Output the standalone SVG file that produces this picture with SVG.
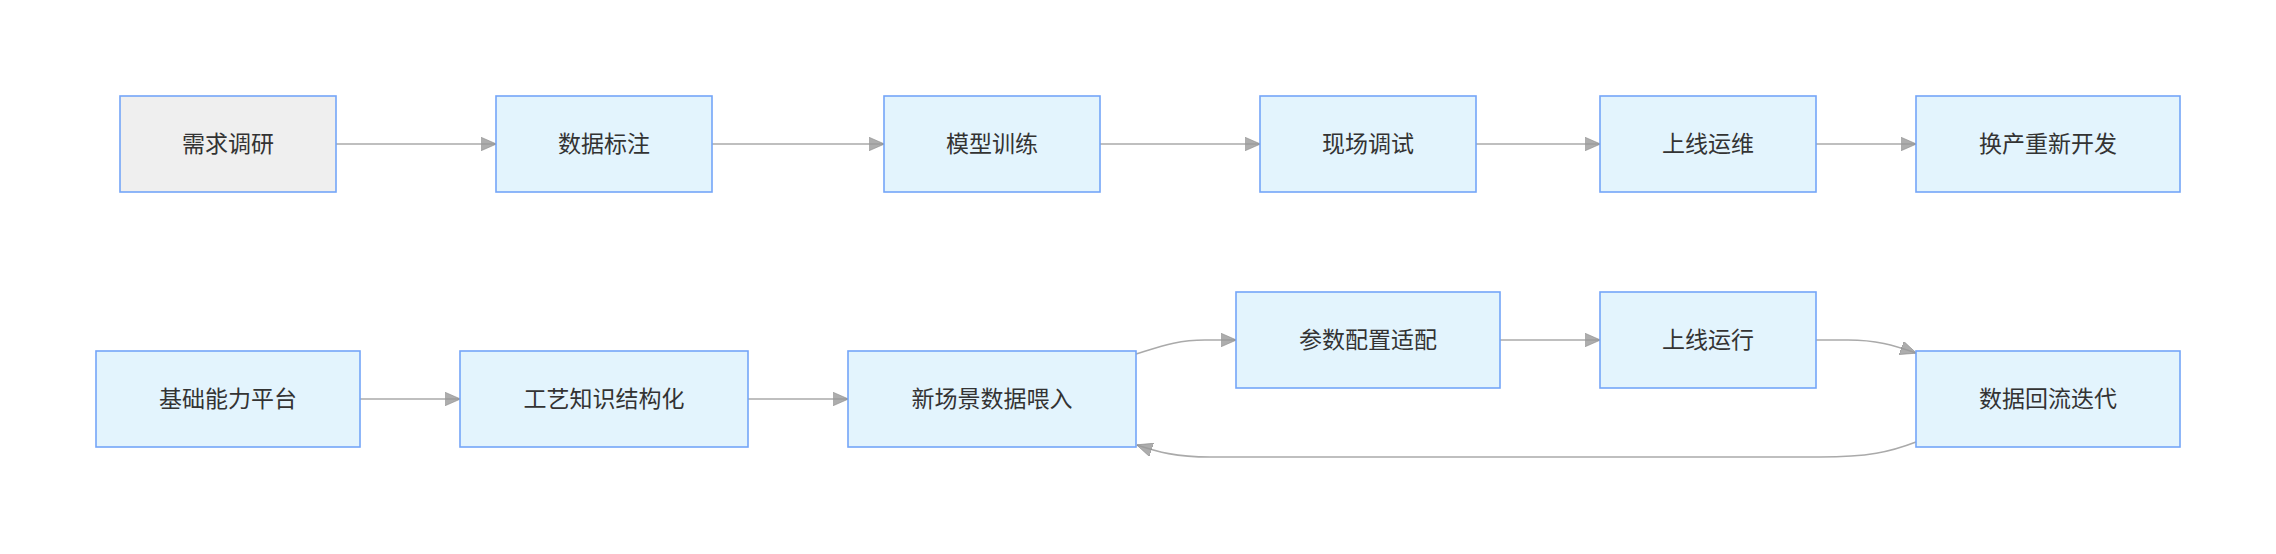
<svg xmlns="http://www.w3.org/2000/svg" width="2276" height="554" viewBox="0 0 2276 554">
  <style>
    .box { fill: #e3f4fd; stroke: #74a5f8; stroke-width: 1.6; }
    .box.grey { fill: #efefef; }
    .label { font-family: 'Liberation Sans', 'Noto Sans CJK SC', sans-serif; font-size: 23px; fill: #333333; text-anchor: middle; dominant-baseline: central; }
    .edge { fill: none; stroke: #aaaaaa; stroke-width: 1.6; marker-end: url(#arrow); }
  </style>
  <defs>
    <marker id="arrow" markerUnits="userSpaceOnUse" viewBox="0 0 16 14" refX="15.5" refY="7" markerWidth="16" markerHeight="14" orient="auto">
      <path d="M0,0 L16,7 L0,14 Z" fill="#999999" fill-opacity="0.8" stroke="#8a8a8a" stroke-width="0.6"/>
    </marker>
  </defs>
  <rect width="2276" height="554" fill="#ffffff"/>

  <g id="connectors">
    <path class="edge" d="M336,144 L496,144"/>
    <path class="edge" d="M712,144 L884,144"/>
    <path class="edge" d="M1100,144 L1260,144"/>
    <path class="edge" d="M1476,144 L1600,144"/>
    <path class="edge" d="M1816,144 L1916,144"/>
    <path class="edge" d="M360,399 L460,399"/>
    <path class="edge" d="M748,399 L848,399"/>
    <path class="edge" d="M1136,354 C1162,346 1178,340 1205,340 L1236,340"/>
    <path class="edge" d="M1500,340 L1600,340"/>
    <path class="edge" d="M1816,340 L1848,340 C1876,340 1893,345 1916,353"/>
    <path class="edge" d="M1916,442 C1890,452 1868,457 1820,457 L1210,457 C1176,457 1158,452 1137,445"/>
  </g>

  <g id="n1"><rect class="box grey" x="120" y="96" width="216" height="96"/><text class="label" x="228" y="144">需求调研</text></g>
  <g id="n2"><rect class="box" x="496" y="96" width="216" height="96"/><text class="label" x="604" y="144">数据标注</text></g>
  <g id="n3"><rect class="box" x="884" y="96" width="216" height="96"/><text class="label" x="992" y="144">模型训练</text></g>
  <g id="n4"><rect class="box" x="1260" y="96" width="216" height="96"/><text class="label" x="1368" y="144">现场调试</text></g>
  <g id="n5"><rect class="box" x="1600" y="96" width="216" height="96"/><text class="label" x="1708" y="144">上线运维</text></g>
  <g id="n6"><rect class="box" x="1916" y="96" width="264" height="96"/><text class="label" x="2048" y="144">换产重新开发</text></g>

  <g id="m1"><rect class="box" x="96" y="351" width="264" height="96"/><text class="label" x="228" y="399">基础能力平台</text></g>
  <g id="m2"><rect class="box" x="460" y="351" width="288" height="96"/><text class="label" x="604" y="399">工艺知识结构化</text></g>
  <g id="m3"><rect class="box" x="848" y="351" width="288" height="96"/><text class="label" x="992" y="399">新场景数据喂入</text></g>
  <g id="m4"><rect class="box" x="1236" y="292" width="264" height="96"/><text class="label" x="1368" y="340">参数配置适配</text></g>
  <g id="m5"><rect class="box" x="1600" y="292" width="216" height="96"/><text class="label" x="1708" y="340">上线运行</text></g>
  <g id="m6"><rect class="box" x="1916" y="351" width="264" height="96"/><text class="label" x="2048" y="399">数据回流迭代</text></g>
</svg>
